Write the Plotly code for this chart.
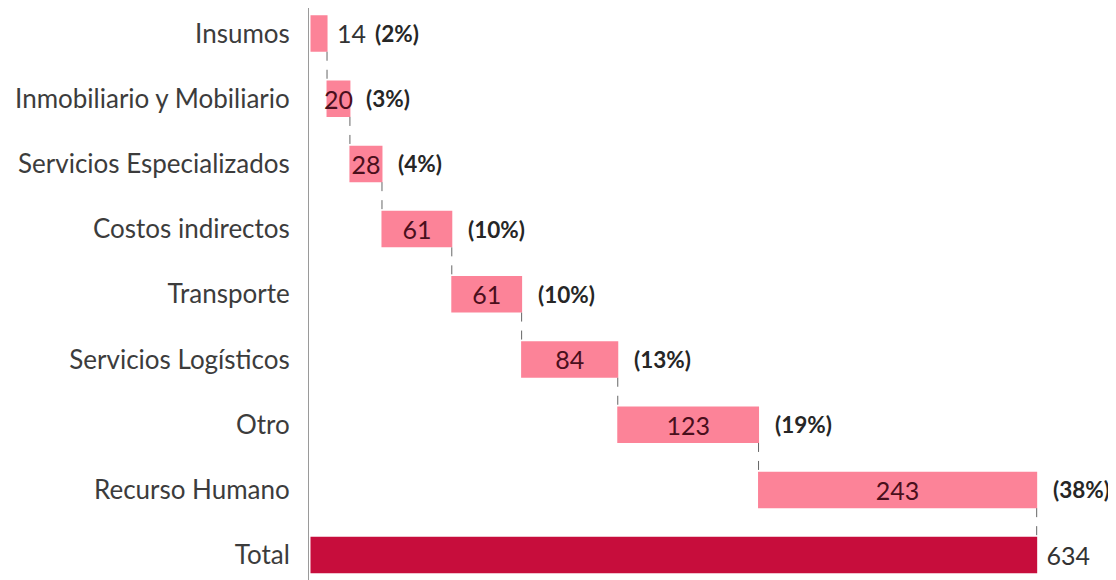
import plotly.graph_objects as go

categories = ["Insumos", "Inmobiliario y Mobiliario", "Servicios Especializados",
              "Costos indirectos", "Transporte", "Servicios Logísticos", "Otro",
              "Recurso Humano", "Total"]
values = [14, 20, 28, 61, 61, 84, 123, 243, 634]
measures = ["relative"] * 8 + ["total"]
value_labels = ["14", "20", "28", "61", "61", "84", "123", "243", "634"]
pct_labels = ["(2%)", "(3%)", "(4%)", "(10%)", "(10%)", "(13%)", "(19%)", "(38%)", ""]

PINK = "#FC8398"
CRIMSON = "#C70D3C"
FONT = "Lato"

text_pos = ["outside"] + ["inside"] * 7 + ["outside"]
text_colors = ["#333333"] + ["#4a0f1c"] * 7 + ["#333333"]
texts = [(" " + t) if p == "outside" else t for t, p in zip(value_labels, text_pos)]

fig = go.Figure(go.Waterfall(
    orientation="h",
    y=categories,
    x=values,
    measure=measures,
    text=texts,
    textposition=text_pos,
    insidetextanchor="middle",
    textfont=dict(family=FONT, size=25, color=text_colors),
    constraintext="none",
    width=0.56,
    increasing=dict(marker=dict(color=PINK, line=dict(width=0))),
    totals=dict(marker=dict(color=CRIMSON, line=dict(width=0))),
    connector=dict(line=dict(color="#666666", width=1, dash="dash")),
    hoverinfo="skip",
))

# percentage annotations to the right of each step bar
cum = 0
for i, (c, v, p) in enumerate(zip(categories, values, pct_labels)):
    if measures[i] == "relative":
        cum += v
    if not p:
        continue
    fig.add_annotation(
        x=cum, y=c, text=f"<b>{p}</b>", showarrow=False,
        xanchor="left", yanchor="middle",
        xshift=46 if i == 0 else 14,
        font=dict(family=FONT, size=22.5, color="#262626"),
    )

fig.update_layout(
    width=1108, height=572,
    margin=dict(l=301, r=0, t=0, b=0),
    paper_bgcolor="white", plot_bgcolor="white",
    showlegend=False,
    xaxis=dict(range=[-1.75, 703.3], visible=False),
    yaxis=dict(
        type="category",
        range=[8.382, -0.391],
        showline=True, linecolor="#9a9a9a", linewidth=1,
        showgrid=False, zeroline=False, ticks="",
        ticklabelstandoff=13,
        tickfont=dict(family=FONT, size=26, color="#3c3c3c"),
    ),
)

fig.write_html("out.html")
